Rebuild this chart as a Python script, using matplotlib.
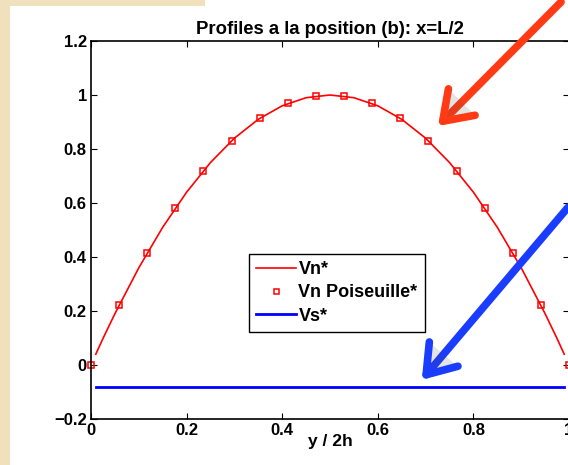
import matplotlib
matplotlib.use("Agg")
import matplotlib.pyplot as plt
from matplotlib.patches import Rectangle, FancyArrowPatch
import matplotlib.patheffects as pe

# Vn* profile (line)
vn_y = [0.01, 0.025, 0.05, 0.10, 0.15, 0.20, 0.25, 0.30, 0.35, 0.40, 0.45, 0.50,
        0.55, 0.60, 0.65, 0.70, 0.75, 0.80, 0.85, 0.90, 0.95, 0.975, 0.99]
vn_val = [0.040, 0.098, 0.190, 0.360, 0.510, 0.640, 0.750, 0.840, 0.910, 0.960, 0.990, 1.000,
          0.990, 0.960, 0.910, 0.840, 0.750, 0.640, 0.510, 0.360, 0.190, 0.098, 0.040]

# Poiseuille reference (markers)
pois_y = [0.0, 0.0588, 0.1176, 0.1765, 0.2353, 0.2941, 0.3529, 0.4118, 0.4706,
          0.5294, 0.5882, 0.6471, 0.7059, 0.7647, 0.8235, 0.8824, 0.9412, 1.0]
pois_val = [0.0, 0.221, 0.415, 0.581, 0.720, 0.830, 0.913, 0.969, 0.997,
            0.997, 0.969, 0.913, 0.830, 0.720, 0.581, 0.415, 0.221, 0.0]

# Vs* profile
vs_y = [0.01, 0.99]
vs_val = [-0.083, -0.083]

xticks = [0, 0.2, 0.4, 0.6, 0.8, 1]
yticks = [-0.2, 0, 0.2, 0.4, 0.6, 0.8, 1, 1.2]
xtick_labels = ['0', '0.2', '0.4', '0.6', '0.8', '1']
ytick_labels = ['\u22120.2', '0', '0.2', '0.4', '0.6', '0.8', '1', '1.2']

plt.rcParams['font.family'] = ['Liberation Sans', 'DejaVu Sans']
plt.rcParams['font.weight'] = 'bold'

W, H = 568, 465
fig = plt.figure(figsize=(W / 100, H / 100), dpi=100)
fig.patch.set_facecolor('white')

# beige slide background strips
beige = '#F0E0BC'
fig.patches.append(Rectangle((0, 0), 10 / W, 1, transform=fig.transFigure,
                             facecolor=beige, edgecolor='none', zorder=0))
fig.patches.append(Rectangle((0, 1 - 6 / H), 205 / W, 6 / H, transform=fig.transFigure,
                             facecolor=beige, edgecolor='none', zorder=0))

ax = fig.add_axes([91 / W, 1 - 419 / H, 478 / W, 378 / H])

ax.plot(vn_y, vn_val, color='red', lw=1.2, label='Vn*')
ax.plot(pois_y, pois_val, ls='none', marker='s', ms=4.5, mfc='none', mec='red',
        mew=1.1, label='Vn Poiseuille*', clip_on=False)
ax.plot(vs_y, vs_val, color='blue', lw=2.0, label='Vs*')

ax.set_xlim(0, 1)
ax.set_ylim(-0.2, 1.2)
ax.set_xticks(xticks)
ax.set_xticklabels(xtick_labels)
ax.set_yticks(yticks)
ax.set_yticklabels(ytick_labels)
ax.tick_params(direction='in', length=4, width=0.8, top=True, right=True,
               labelsize=12, pad=3)
for s in ax.spines.values():
    s.set_linewidth(1.2)

ax.set_title('Profiles a la position (b): x=L/2', fontsize=13.3, fontweight='bold', pad=5)
ax.set_xlabel('y / 2h', fontsize=12.5, fontweight='bold', labelpad=-3)

leg = ax.legend(loc='upper left', bbox_to_anchor=(0.33, 0.437), fontsize=13,
                frameon=True, fancybox=False, edgecolor='black', framealpha=1,
                handlelength=2.2, handletextpad=0.15, borderpad=0.4, labelspacing=0.35,
                borderaxespad=0, markerscale=0.8)
leg.get_frame().set_linewidth(1.0)

# overlay arrows
shadow = [pe.SimplePatchShadow(offset=(2, -2), alpha=0.15), pe.Normal()]
red_arrow = FancyArrowPatch((563 / W, 1 - 0 / H), (436 / W, 1 - 128 / H),
                            transform=fig.transFigure, arrowstyle='->,head_length=6.5,head_width=4.5',
                            mutation_scale=3, lw=5.5, color='#FF3A14',
                            path_effects=shadow, zorder=10, capstyle='round', joinstyle='round')
blue_arrow = FancyArrowPatch((570 / W, 1 - 205 / H), (420 / W, 1 - 382 / H),
                             transform=fig.transFigure, arrowstyle='->,head_length=6.5,head_width=4.5',
                             mutation_scale=3, lw=5.5, color='#1A3CFF',
                             path_effects=shadow, zorder=10, capstyle='round', joinstyle='round')
fig.patches.append(red_arrow)
fig.patches.append(blue_arrow)

fig.savefig('out.png', dpi=100)
